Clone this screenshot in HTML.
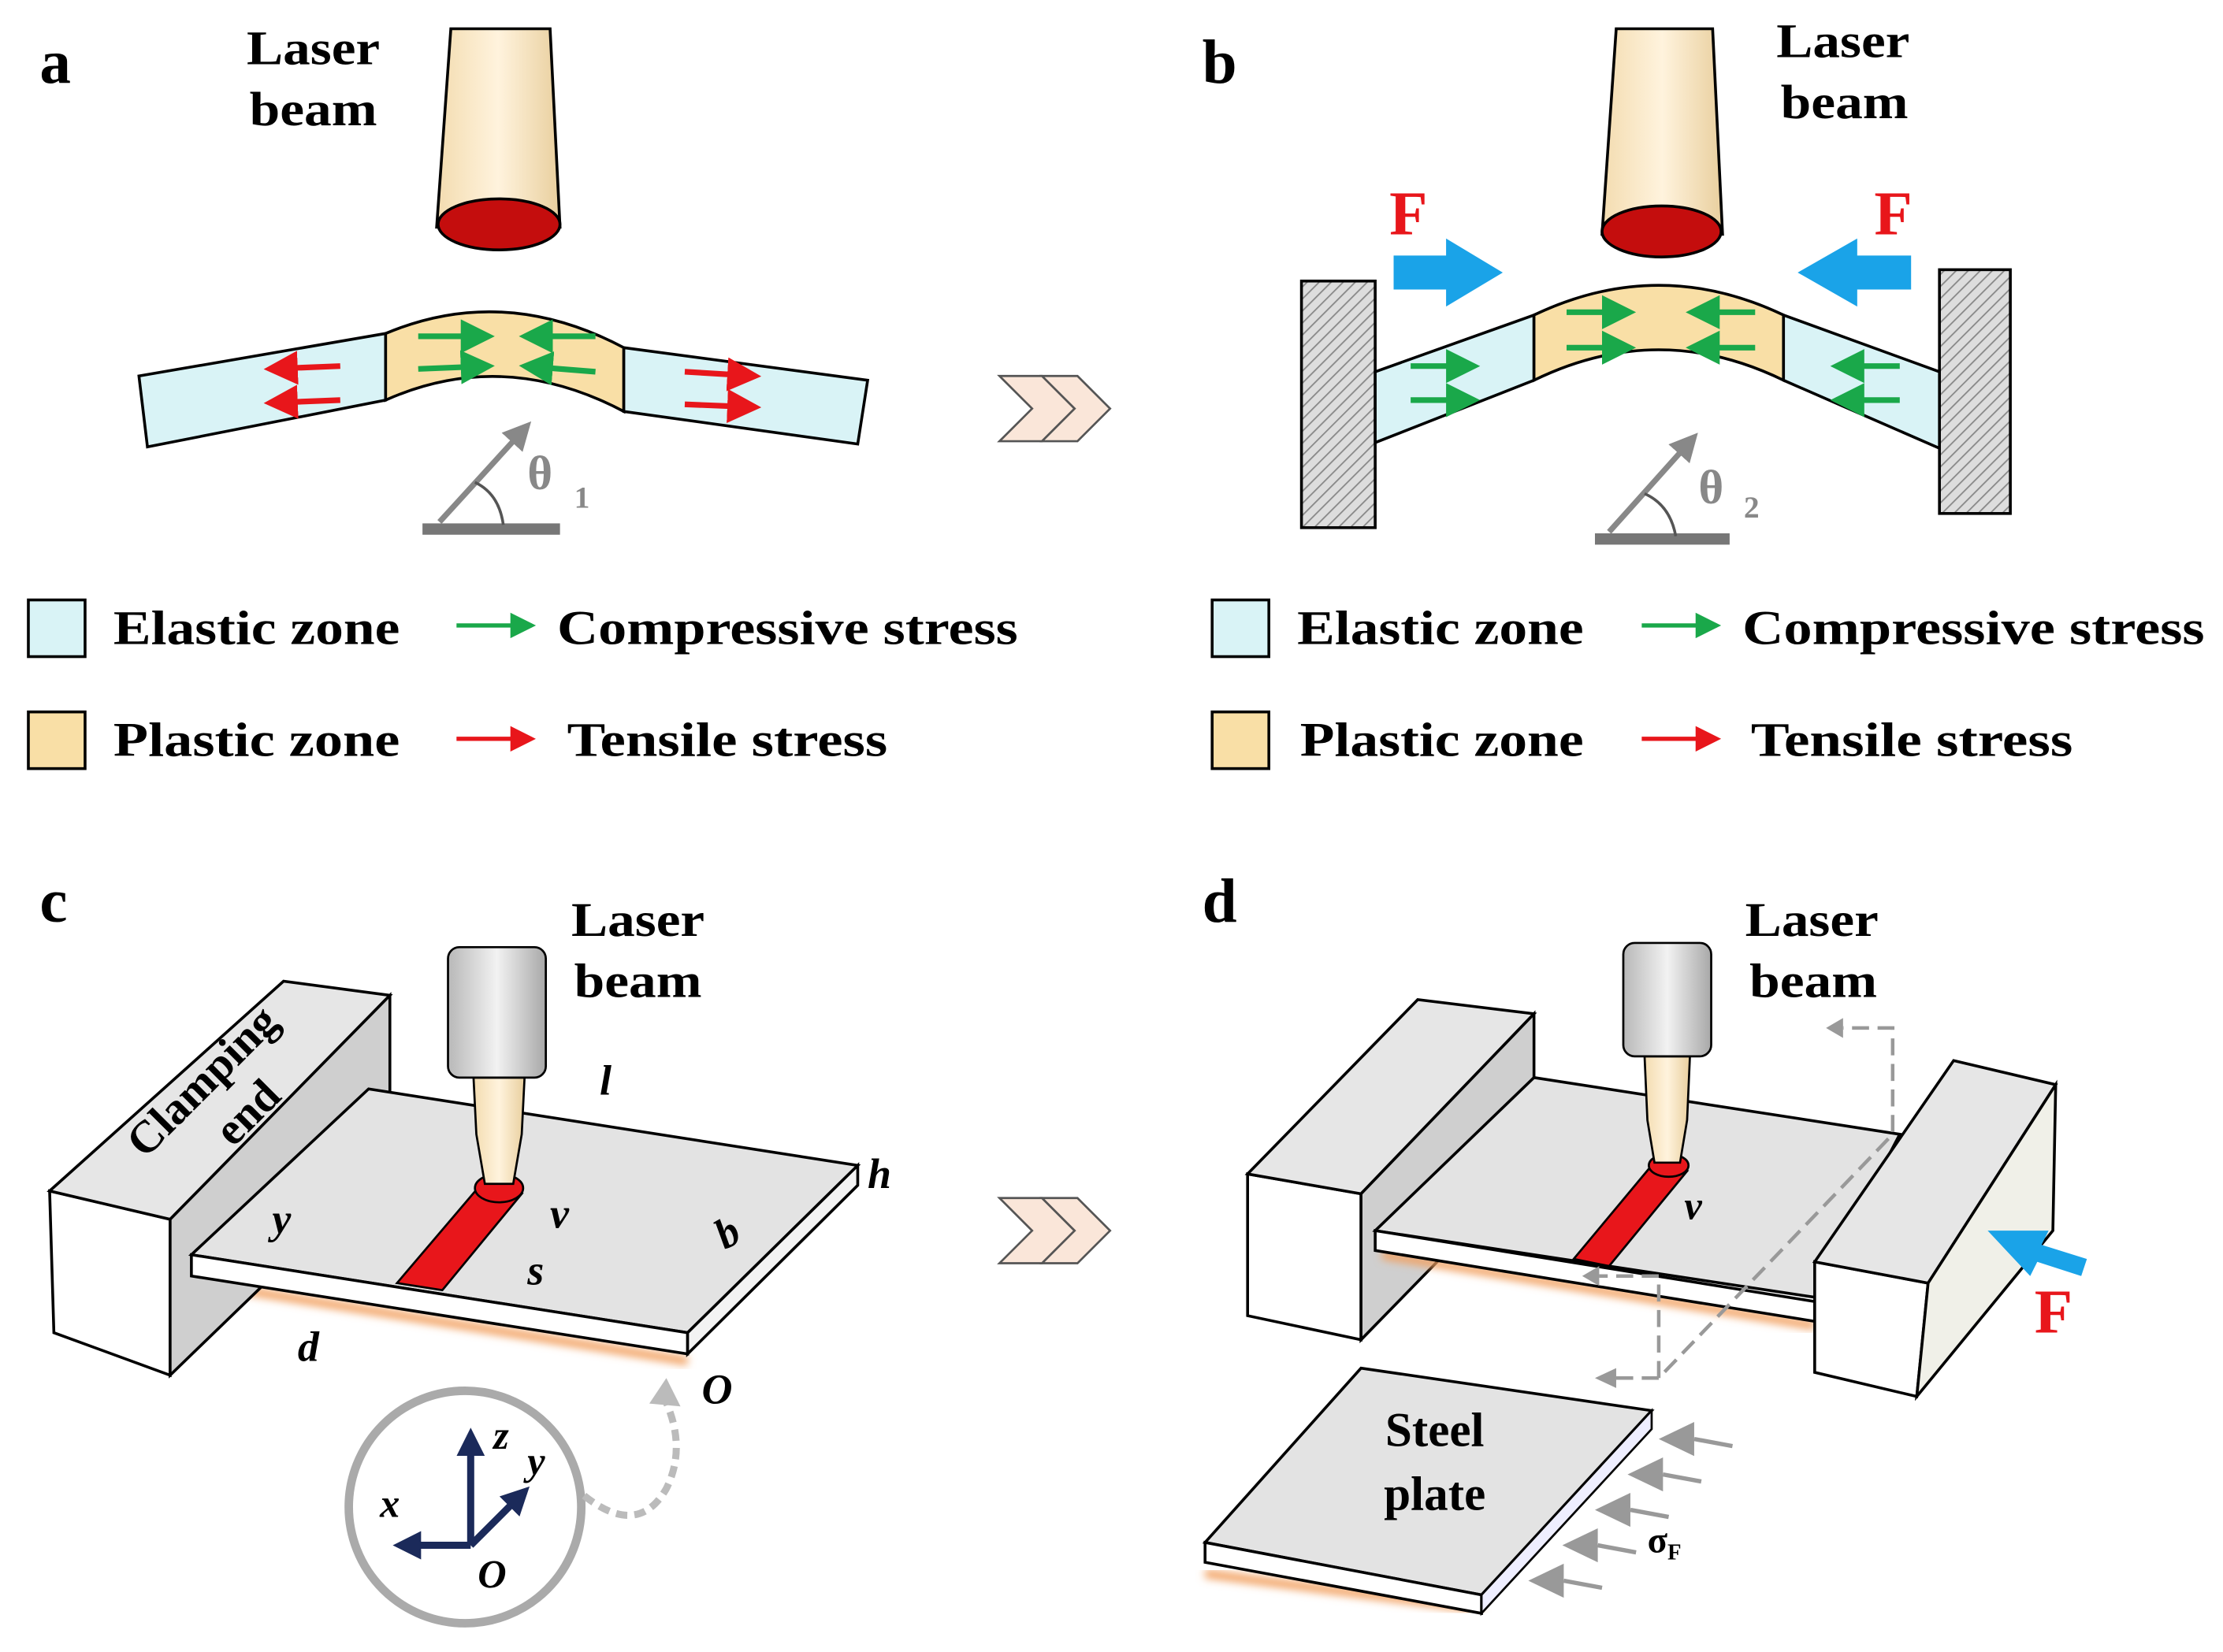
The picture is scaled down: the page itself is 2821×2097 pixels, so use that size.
<!DOCTYPE html>
<html><head><meta charset="utf-8"><style>
html,body{margin:0;padding:0;background:#fff}
svg{display:block}
text{font-family:"Liberation Serif",serif;font-weight:bold}
</style></head><body>
<svg width="2821" height="2097" viewBox="0 0 1568 1165" xmlns="http://www.w3.org/2000/svg">
<defs>
<linearGradient id="beam" x1="0" x2="1"><stop offset="0" stop-color="#f3dcb0"/><stop offset="0.5" stop-color="#fff3dd"/><stop offset="1" stop-color="#e9cf9e"/></linearGradient>
<linearGradient id="noz" x1="0" x2="1"><stop offset="0" stop-color="#b8b8b8"/><stop offset="0.5" stop-color="#f2f2f2"/><stop offset="1" stop-color="#a8a8a8"/></linearGradient>
<pattern id="hatch" width="6" height="6" patternUnits="userSpaceOnUse" patternTransform="rotate(45)"><rect width="6" height="6" fill="#ddd"/><line x1="0" y1="0" x2="0" y2="6" stroke="#888" stroke-width="2"/></pattern>
<marker id="ag" markerWidth="6" markerHeight="6" refX="5" refY="3" orient="auto"><path d="M0,0L6,3L0,6z" fill="#1aa84a"/></marker>
<marker id="ar" markerWidth="6" markerHeight="6" refX="5" refY="3" orient="auto"><path d="M0,0L6,3L0,6z" fill="#e8161b"/></marker>
<marker id="agr" markerWidth="5" markerHeight="5" refX="4" refY="2.5" orient="auto"><path d="M0,0L5,2.5L0,5z" fill="#888"/></marker>
<marker id="anv" markerWidth="4" markerHeight="4" refX="3" refY="2" orient="auto"><path d="M0,0L4,2L0,4z" fill="#1b2a5a"/></marker>
<filter id="glow"><feGaussianBlur stdDeviation="3"/></filter>
</defs>

<!-- panel a -->
<text x="28" y="58" font-size="44">a</text>
<text x="174" y="45" font-size="34" textLength="94" lengthAdjust="spacingAndGlyphs">Laser</text>
<text x="176" y="88" font-size="34" textLength="90" lengthAdjust="spacingAndGlyphs">beam</text>
<path d="M318,20 L388,20 L395,160 L308,160 Z" fill="url(#beam)" stroke="#000" stroke-width="2"/>
<ellipse cx="352" cy="158" rx="43" ry="18" fill="#c40d0d" stroke="#000" stroke-width="2"/>
<path d="M98,265 L272,235 L272,282 L104,315 Z" fill="#d9f3f6" stroke="#000" stroke-width="2"/>
<path d="M272,235 Q355,200 440,245 L440,290 Q355,245 272,282 Z" fill="#f9dfa6" stroke="#000" stroke-width="2"/>
<path d="M440,245 L612,268 L605,313 L440,290 Z" fill="#d9f3f6" stroke="#000" stroke-width="2"/>
<g stroke-width="4">
<line x1="295" y1="237" x2="345" y2="237" stroke="#1aa84a" marker-end="url(#ag)"/>
<line x1="295" y1="260" x2="345" y2="258" stroke="#1aa84a" marker-end="url(#ag)"/>
<line x1="420" y1="237" x2="370" y2="237" stroke="#1aa84a" marker-end="url(#ag)"/>
<line x1="420" y1="262" x2="370" y2="258" stroke="#1aa84a" marker-end="url(#ag)"/>
<line x1="240" y1="258" x2="190" y2="260" stroke="#e8161b" marker-end="url(#ar)"/>
<line x1="240" y1="282" x2="190" y2="284" stroke="#e8161b" marker-end="url(#ar)"/>
<line x1="483" y1="262" x2="533" y2="265" stroke="#e8161b" marker-end="url(#ar)"/>
<line x1="483" y1="285" x2="533" y2="287" stroke="#e8161b" marker-end="url(#ar)"/>
</g>
<line x1="298" y1="373" x2="395" y2="373" stroke="#777" stroke-width="8"/>
<line x1="310" y1="368" x2="372" y2="300" stroke="#888" stroke-width="4" marker-end="url(#agr)"/>
<path d="M335,340 Q352,348 355,370" fill="none" stroke="#555" stroke-width="2"/>
<text x="372" y="345" font-size="34" fill="#888" font-weight="normal">θ</text>
<text x="405" y="358" font-size="22" fill="#888" font-weight="normal">1</text>

<!-- legend a -->
<rect x="20" y="423" width="40" height="40" fill="#d9f3f6" stroke="#000" stroke-width="2"/>
<text x="80" y="454" font-size="34" textLength="202" lengthAdjust="spacingAndGlyphs">Elastic zone</text>
<line x1="322" y1="441" x2="375" y2="441" stroke="#1aa84a" stroke-width="3" marker-end="url(#ag)"/>
<text x="393" y="454" font-size="34" textLength="325" lengthAdjust="spacingAndGlyphs">Compressive stress</text>
<rect x="20" y="502" width="40" height="40" fill="#f9dfa6" stroke="#000" stroke-width="2"/>
<text x="80" y="533" font-size="34" textLength="202" lengthAdjust="spacingAndGlyphs">Plastic zone</text>
<line x1="322" y1="521" x2="375" y2="521" stroke="#e8161b" stroke-width="3" marker-end="url(#ar)"/>
<text x="400" y="533" font-size="34" textLength="226" lengthAdjust="spacingAndGlyphs">Tensile stress</text>

<!-- chevrons -->
<g fill="#fae6d9" stroke="#555" stroke-width="1.5">
<path d="M705,265 L735,265 L758,288 L735,311 L705,311 L728,288 Z"/>
<path d="M735,265 L760,265 L783,288 L760,311 L735,311 L758,288 Z"/>
<path d="M705,845 L735,845 L758,868 L735,891 L705,891 L728,868 Z"/>
<path d="M735,845 L760,845 L783,868 L760,891 L735,891 L758,868 Z"/>
</g>

<!-- panel b -->
<text x="848" y="58" font-size="44">b</text>
<text x="1253" y="40" font-size="34" textLength="94" lengthAdjust="spacingAndGlyphs">Laser</text>
<text x="1256" y="83" font-size="34" textLength="90" lengthAdjust="spacingAndGlyphs">beam</text>
<path d="M1140,20 L1208,20 L1215,165 L1130,165 Z" fill="url(#beam)" stroke="#000" stroke-width="2"/>
<ellipse cx="1172" cy="163" rx="42" ry="18" fill="#c40d0d" stroke="#000" stroke-width="2"/>
<rect x="918" y="198" width="52" height="174" fill="url(#hatch)" stroke="#000" stroke-width="2"/>
<rect x="1368" y="190" width="50" height="172" fill="url(#hatch)" stroke="#000" stroke-width="2"/>
<path d="M970,262 L1082,222 L1082,268 L970,312 Z" fill="#d9f3f6" stroke="#000" stroke-width="2"/>
<path d="M1082,222 Q1170,180 1258,222 L1258,268 Q1170,225 1082,268 Z" fill="#f9dfa6" stroke="#000" stroke-width="2"/>
<path d="M1258,222 L1368,262 L1368,316 L1258,268 Z" fill="#d9f3f6" stroke="#000" stroke-width="2"/>
<g stroke-width="4" stroke="#1aa84a">
<line x1="1105" y1="220" x2="1150" y2="220" marker-end="url(#ag)"/>
<line x1="1105" y1="245" x2="1150" y2="245" marker-end="url(#ag)"/>
<line x1="1238" y1="220" x2="1193" y2="220" marker-end="url(#ag)"/>
<line x1="1238" y1="245" x2="1193" y2="245" marker-end="url(#ag)"/>
<line x1="995" y1="258" x2="1040" y2="258" marker-end="url(#ag)"/>
<line x1="995" y1="282" x2="1040" y2="282" marker-end="url(#ag)"/>
<line x1="1340" y1="258" x2="1295" y2="258" marker-end="url(#ag)"/>
<line x1="1340" y1="282" x2="1295" y2="282" marker-end="url(#ag)"/>
</g>
<path d="M983,180 L1020,180 L1020,168 L1060,192 L1020,216 L1020,204 L983,204 Z" fill="#1aa3e8"/>
<path d="M1348,180 L1310,180 L1310,168 L1268,192 L1310,216 L1310,204 L1348,204 Z" fill="#1aa3e8"/>
<text x="980" y="165" font-size="44" fill="#e8161b">F</text>
<text x="1322" y="165" font-size="44" fill="#e8161b">F</text>
<line x1="1125" y1="380" x2="1220" y2="380" stroke="#777" stroke-width="8"/>
<line x1="1135" y1="375" x2="1195" y2="308" stroke="#888" stroke-width="4" marker-end="url(#agr)"/>
<path d="M1160,348 Q1178,356 1182,378" fill="none" stroke="#555" stroke-width="2"/>
<text x="1198" y="355" font-size="34" fill="#888" font-weight="normal">θ</text>
<text x="1230" y="365" font-size="22" fill="#888" font-weight="normal">2</text>

<rect x="855" y="423" width="40" height="40" fill="#d9f3f6" stroke="#000" stroke-width="2"/>
<text x="915" y="454" font-size="34" textLength="202" lengthAdjust="spacingAndGlyphs">Elastic zone</text>
<line x1="1158" y1="441" x2="1211" y2="441" stroke="#1aa84a" stroke-width="3" marker-end="url(#ag)"/>
<text x="1229" y="454" font-size="34" textLength="326" lengthAdjust="spacingAndGlyphs">Compressive stress</text>
<rect x="855" y="502" width="40" height="40" fill="#f9dfa6" stroke="#000" stroke-width="2"/>
<text x="917" y="533" font-size="34" textLength="200" lengthAdjust="spacingAndGlyphs">Plastic zone</text>
<line x1="1158" y1="521" x2="1211" y2="521" stroke="#e8161b" stroke-width="3" marker-end="url(#ar)"/>
<text x="1235" y="533" font-size="34" textLength="227" lengthAdjust="spacingAndGlyphs">Tensile stress</text>

<!-- panel c -->
<text x="28" y="650" font-size="44">c</text>
<text x="403" y="660" font-size="34" textLength="94" lengthAdjust="spacingAndGlyphs">Laser</text>
<text x="405" y="703" font-size="34" textLength="90" lengthAdjust="spacingAndGlyphs">beam</text>
<path d="M140,905 L485,960" stroke="#f2a060" stroke-width="6" filter="url(#glow)"/>
<path d="M35,840 L120,860 L120,970 L38,940 Z" fill="#fff" stroke="#000" stroke-width="2"/>
<path d="M35,840 L200,692 L275,702 L120,860 Z" fill="#e6e6e6" stroke="#000" stroke-width="2"/>
<path d="M120,860 L275,702 L275,820 L120,970 Z" fill="#cfcfcf" stroke="#000" stroke-width="2"/>
<text x="150" y="770" font-size="32" transform="rotate(-45 150 770)" text-anchor="middle">Clamping</text>
<text x="182" y="792" font-size="32" transform="rotate(-45 182 792)" text-anchor="middle">end</text>
<path d="M135,885 L260,768 L605,822 L485,940 Z" fill="#e3e3e3" stroke="#000" stroke-width="2"/>
<path d="M135,885 L485,940 L485,955 L135,900 Z" fill="#fff" stroke="#000" stroke-width="2"/>
<path d="M485,940 L605,822 L605,836 L485,955 Z" fill="#f3f3f3" stroke="#000" stroke-width="2"/>
<path d="M280,905 L337,838 L368,842 L312,910 Z" fill="#e8161b" stroke="#000" stroke-width="1.5"/>
<ellipse cx="352" cy="838" rx="17" ry="10" fill="#e8161b" stroke="#000" stroke-width="1.5"/>
<path d="M334,760 L370,760 L368,800 L362,835 L342,835 L336,800 Z" fill="url(#beam)" stroke="#000" stroke-width="1.5"/>
<rect x="316" y="668" width="69" height="92" rx="8" fill="url(#noz)" stroke="#000" stroke-width="1.5"/>
<g font-style="italic" font-size="30">
<text x="423" y="772">l</text><text x="612" y="838">h</text>
<text x="192" y="870">y</text><text x="388" y="866">v</text>
<text x="505" y="878" transform="rotate(-30 515 868)">b</text>
<text x="372" y="906">s</text><text x="210" y="960">d</text><text x="495" y="990">O</text>
</g>
<circle cx="328" cy="1063" r="82" fill="#fff" stroke="#aaa" stroke-width="6"/>
<g stroke="#1b2a5a" stroke-width="5">
<line x1="332" y1="1090" x2="332" y2="1012" marker-end="url(#anv)"/>
<line x1="332" y1="1090" x2="282" y2="1090" marker-end="url(#anv)"/>
<line x1="332" y1="1090" x2="370" y2="1052" marker-end="url(#anv)"/>
</g>
<g font-style="italic" font-size="28">
<text x="348" y="1022">z</text><text x="372" y="1040">y</text><text x="268" y="1070">x</text><text x="337" y="1120">O</text>
</g>
<path d="M412,1055 Q450,1085 470,1050 Q485,1020 468,985" fill="none" stroke="#bbb" stroke-width="5" stroke-dasharray="8,5"/>
<path d="M458,990 L470,972 L480,992 Z" fill="#bbb"/>

<!-- panel d -->
<text x="848" y="650" font-size="44">d</text>
<text x="1231" y="660" font-size="34" textLength="94" lengthAdjust="spacingAndGlyphs">Laser</text>
<text x="1234" y="703" font-size="34" textLength="90" lengthAdjust="spacingAndGlyphs">beam</text>
<path d="M880,828 L960,842 L960,945 L880,928 Z" fill="#fff" stroke="#000" stroke-width="2"/>
<path d="M880,828 L1000,705 L1082,715 L960,842 Z" fill="#e6e6e6" stroke="#000" stroke-width="2"/>
<path d="M960,842 L1082,715 L1082,820 L960,945 Z" fill="#cfcfcf" stroke="#000" stroke-width="2"/>
<path d="M975,885 L1280,935" stroke="#f2a060" stroke-width="6" filter="url(#glow)"/>
<path d="M970,868 L1082,760 L1340,800 L1280,915 Z" fill="#e3e3e3" stroke="#000" stroke-width="2"/>
<path d="M970,868 L1280,918 L1280,932 L970,882 Z" fill="#fff" stroke="#000" stroke-width="2"/>
<path d="M1110,888 L1165,822 L1190,826 L1135,893 Z" fill="#e8161b" stroke="#000" stroke-width="1.5"/>
<ellipse cx="1177" cy="822" rx="14" ry="8" fill="#e8161b" stroke="#000" stroke-width="1.5"/>
<path d="M1160,745 L1192,745 L1190,790 L1185,820 L1167,820 L1162,790 Z" fill="url(#beam)" stroke="#000" stroke-width="1.5"/>
<rect x="1145" y="665" width="62" height="80" rx="8" fill="url(#noz)" stroke="#000" stroke-width="1.5"/>
<text x="1188" y="860" font-size="28" font-style="italic">v</text>
<path d="M1280,890 L1360,905 L1352,985 L1280,968 Z" fill="#fff" stroke="#000" stroke-width="2"/>
<path d="M1280,890 L1378,748 L1450,765 L1360,905 Z" fill="#e6e6e6" stroke="#000" stroke-width="2"/>
<path d="M1360,905 L1450,765 L1448,868 L1352,985 Z" fill="#f0f0e8" stroke="#000" stroke-width="2"/>
<g fill="none" stroke="#999" stroke-width="2.5" stroke-dasharray="12,6">
<path d="M1140,972 L1170,972 L1335,800 L1335,725 L1300,725"/>
<path d="M1170,972 L1170,900 L1128,900"/>
</g>
<path d="M1300,718 L1288,725 L1300,732 Z" fill="#999"/>
<path d="M1128,893 L1116,900 L1128,907 Z" fill="#999"/>
<path d="M1140,965 L1125,972 L1140,979 Z" fill="#999"/>
<path d="M1472,888 L1440,878 L1445,868 L1402,868 L1432,900 L1437,890 L1468,900 Z" fill="#1aa3e8"/>
<text x="1435" y="940" font-size="44" fill="#e8161b">F</text>
<path d="M850,1110 L1045,1135" stroke="#f2a060" stroke-width="6" filter="url(#glow)"/>
<path d="M850,1088 L960,965 L1165,995 L1045,1125 Z" fill="#e3e3e3" stroke="#000" stroke-width="2"/>
<path d="M850,1088 L1045,1125 L1045,1138 L850,1102 Z" fill="#fff" stroke="#000" stroke-width="2"/>
<path d="M1045,1125 L1165,995 L1165,1008 L1045,1138 Z" fill="#eef" stroke="#000" stroke-width="1.5"/>
<text x="1012" y="1020" font-size="34" text-anchor="middle">Steel</text>
<text x="1012" y="1065" font-size="34" text-anchor="middle">plate</text>
<g fill="#999">
<path d="M1170,1015 L1195,1003 L1195,1027 Z"/><path d="M1148,1040 L1173,1028 L1173,1052 Z"/>
<path d="M1125,1065 L1150,1053 L1150,1077 Z"/><path d="M1102,1090 L1127,1078 L1127,1102 Z"/>
<path d="M1078,1115 L1103,1103 L1103,1127 Z"/>
</g>
<g stroke="#999" stroke-width="3">
<line x1="1195" y1="1015" x2="1222" y2="1020"/><line x1="1173" y1="1040" x2="1200" y2="1045"/>
<line x1="1150" y1="1065" x2="1177" y2="1070"/><line x1="1127" y1="1090" x2="1154" y2="1095"/>
<line x1="1103" y1="1115" x2="1130" y2="1120"/>
</g>
<text x="1162" y="1095" font-size="26">σ<tspan font-size="16" dy="5">F</tspan></text>
</svg>
</body></html>
